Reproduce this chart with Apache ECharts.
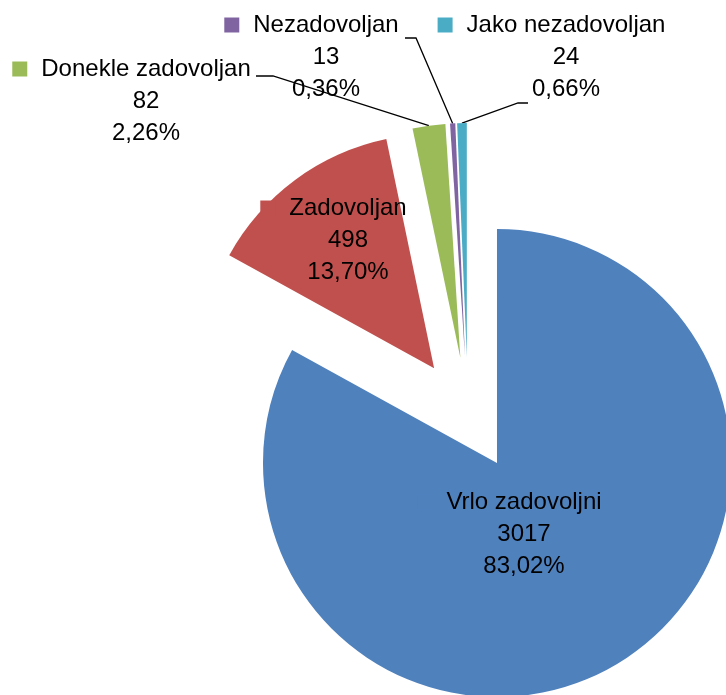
<!DOCTYPE html>
<html><head><meta charset="utf-8">
<script src="https://cdn.jsdelivr.net/npm/echarts@6/dist/echarts.min.js"></script>
<style>html,body{margin:0;padding:0;background:#fff}#c{width:726px;height:695px}</style>
</head><body><div id="c"></div>
<script>
const categories = ['Vrlo zadovoljni', 'Zadovoljan', 'Donekle zadovoljan', 'Nezadovoljan', 'Jako nezadovoljan'];
const values = [3017, 498, 82, 13, 24];
const colors = ['#4F81BD', '#C0504D', '#9BBB59', '#8064A2', '#4BACC6'];

// layout settings (not data)
const FONT = '"Liberation Sans", Arial, sans-serif';
const CX = 468, CY = 414, R = 234;
const OFFSET = 57;                       // explosion distance
const labelPos = [[524, 534], [348, 240], [146, 101], [326, 57], [566, 57]];
// leader line end relative to label centre: [dx, dy, horizontal segment]
const leader = [null, null, [110, -25, 17], [79, -19, 11], [-38, 46, -10]];

const total = values.reduce((a, b) => a + b, 0);
function pct(v) { return (v / total * 100).toFixed(2).replace('.', ',') + '%'; }

const chart = echarts.init(document.getElementById('c'), null, {renderer: 'canvas'});

let cum = 0;
const series = categories.map((name, s) => {
  const mid = (cum + values[s] / 2) / total * 2 * Math.PI;
  cum += values[s];
  const center = [CX + OFFSET * Math.sin(mid), CY - OFFSET * Math.cos(mid)];
  return {
    type: 'pie',
    silent: true,
    center: center,
    radius: R,
    startAngle: 90,
    clockwise: true,
    avoidLabelOverlap: false,
    emphasis: {disabled: true},
    label: {
      fontSize: 24, lineHeight: 32, color: '#000', fontFamily: FONT, overflow: 'none',
      formatter: p => '{k| }{g| }{t|' + p.name + '}{p| }\n{t|' + p.value + '}\n{t|' + pct(p.value) + '}'
    },
    labelLine: {length: 15, length2: 10, lineStyle: {color: '#000', width: 1.3}},
    data: categories.map((n, i) => ({
      name: n,
      value: values[i],
      itemStyle: {color: i === s ? colors[i] : 'rgba(0,0,0,0)', borderWidth: 0},
      label: i === s ? {
        show: true,
        position: leader[i] ? 'outside' : 'inside',
        rich: {
          k: {width: 15, height: 15, backgroundColor: colors[i]},
          g: {width: 14},
          p: {width: 29},
          t: {fontSize: 24, lineHeight: 32, color: '#000', fontFamily: FONT}
        }
      } : {show: false},
      labelLine: {show: i === s && !!leader[i]}
    })),
    labelLayout: function (p) {
      const i = p.dataIndex;
      if (i !== s) return {};
      const X = labelPos[i][0], Y = labelPos[i][1];
      const out = {x: X, y: Y, align: 'center', verticalAlign: 'middle'};
      const l = leader[i];
      if (l && p.labelLinePoints) {
        const anchor = p.labelLinePoints[0];
        const end = [X + l[0], Y + l[1]];
        const midPt = [end[0] + l[2], end[1]];
        out.labelLinePoints = [[anchor[0], anchor[1]], midPt, end];
      }
      return out;
    }
  };
});

chart.setOption({animation: false, series: series});
</script>
</body></html>
